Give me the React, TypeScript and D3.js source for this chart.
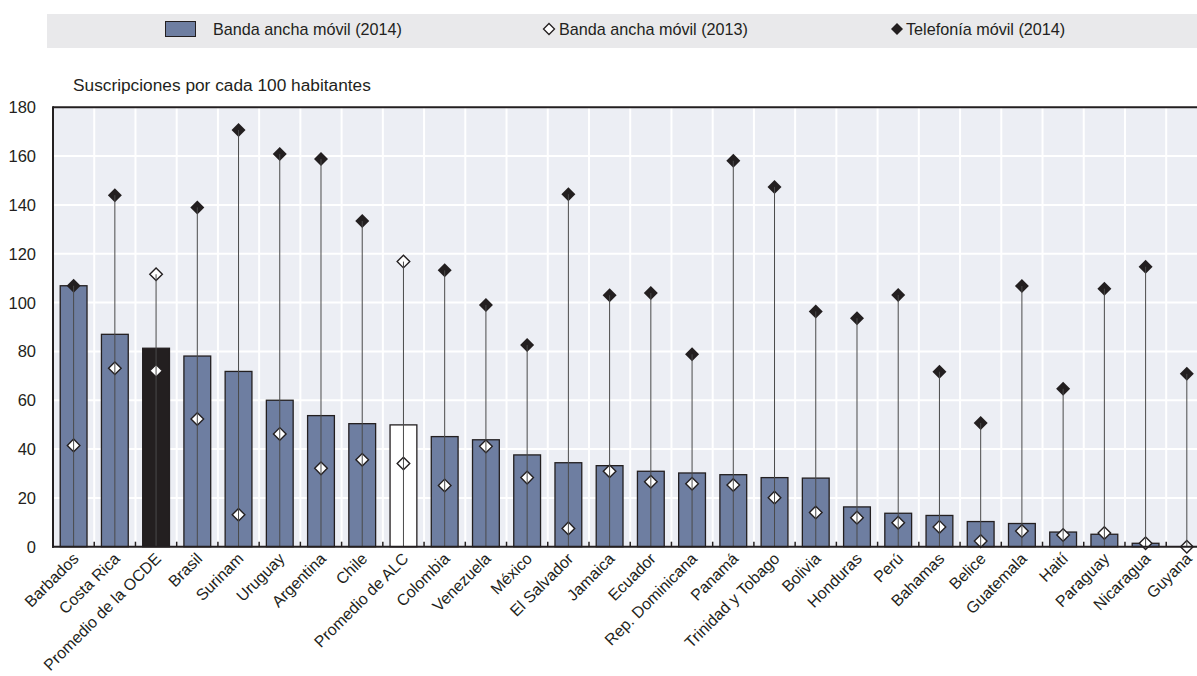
import React from "react";
import * as d3 from "d3";

const categories = [
  "Barbados", "Costa Rica", "Promedio de la OCDE", "Brasil", "Surinam", "Uruguay",
  "Argentina", "Chile", "Promedio de ALC", "Colombia", "Venezuela", "México",
  "El Salvador", "Jamaica", "Ecuador", "Rep. Dominicana", "Panamá", "Trinidad y Tobago",
  "Bolivia", "Honduras", "Perú", "Bahamas", "Belice", "Guatemala", "Haití",
  "Paraguay", "Nicaragua", "Guyana",
];
const broadband2014 = [
  106.9, 87.0, 81.3, 78.1, 71.8, 60.0, 53.7, 50.4, 49.9, 45.1, 43.8, 37.6, 34.4, 33.2,
  30.9, 30.2, 29.5, 28.3, 28.1, 16.3, 13.7, 12.8, 10.3, 9.5, 6.0, 5.1, 1.4, 0,
];
const broadband2013 = [
  41.5, 73.1, 72.1, 52.3, 13.1, 46.2, 32.1, 35.6, 34.1, 25.1, 41.1, 28.3, 7.5, 30.9,
  26.6, 25.8, 25.3, 20.1, 14.0, 11.9, 9.8, 8.1, 2.3, 6.4, 4.8, 5.6, 1.4, 0,
];
const mobile2014 = [
  106.9, 144.0, 111.6, 139.0, 170.7, 160.9, 158.8, 133.4, 116.8, 113.2, 99.0, 82.6,
  144.4, 103.0, 103.9, 78.8, 158.1, 147.4, 96.4, 93.6, 103.1, 71.7, 50.7, 106.8, 64.7,
  105.7, 114.7, 70.8,
];
const oecdAverage = "Promedio de la OCDE";
const lacAverage = "Promedio de ALC";
const yTicks = [0, 20, 40, 60, 80, 100, 120, 140, 160, 180];
const legendLabels = ["Banda ancha móvil (2014)", "Banda ancha móvil (2013)", "Telefonía móvil (2014)"];
const yTitle = "Suscripciones por cada 100 habitantes";

const W = 1197;
const H = 676;
const FONT = "'Liberation Sans', Arial, Helvetica, sans-serif";
const INK = "#231f20";
const BAR = "#6e7ea1";

function diamond(cx: number, cy: number, r: number) {
  return `M${cx},${cy - r}L${cx + r},${cy}L${cx},${cy + r}L${cx - r},${cy}Z`;
}

export default function App() {
  const left = 53;
  const step = 41.23;
  const right = left + step * categories.length;
  const top = 107.3;
  const bottom = 546.7;

  const x = d3
    .scaleBand<string>()
    .domain(categories)
    .range([left, right])
    .paddingInner(0.35)
    .paddingOuter(0.175);
  const y = d3.scaleLinear().domain([0, 180]).range([bottom, top]);
  const cx = (c: string) => (x(c) as number) + x.bandwidth() / 2;
  const boundaries = d3.range(1, categories.length + 1).map((i) => left + x.step() * i);

  return (
    <svg
      width={W}
      height={H}
      style={{ position: "absolute", left: 0, top: 0, background: "#fff" }}
      fontFamily={FONT}
    >
      {/* legend */}
      <rect x={47} y={14} width={W - 47} height={34} fill="#e9e9eb" />
      <rect x={165.5} y={21.5} width={30} height={15} fill={BAR} stroke={INK} strokeWidth={1} />
      <text x={213} y={35} fontSize={16.2} fill={INK}>{legendLabels[0]}</text>
      <path d={diamond(549, 29, 5.5)} fill="#fff" stroke={INK} strokeWidth={1.3} />
      <text x={559} y={35} fontSize={16.2} fill={INK}>{legendLabels[1]}</text>
      <path d={diamond(897, 29, 6)} fill={INK} />
      <text x={906} y={35} fontSize={16.2} fill={INK}>{legendLabels[2]}</text>

      {/* y title */}
      <text x={73} y={91} fontSize={17.3} fill={INK}>{yTitle}</text>

      {/* plot background */}
      <rect x={left} y={top} width={right - left} height={bottom - top} fill="#eceef4" />
      {yTicks.slice(1).map((t) => (
        <line key={"h" + t} x1={left} x2={right} y1={y(t)} y2={y(t)} stroke="#fff" strokeWidth={2} />
      ))}
      {boundaries.map((b, i) => (
        <line key={"v" + i} x1={b} x2={b} y1={top} y2={bottom} stroke="#fff" strokeWidth={2} />
      ))}

      {/* bars */}
      {categories.map((c, i) =>
        broadband2014[i] > 0 ? (
          <rect
            key={"b" + c}
            x={x(c)}
            y={y(broadband2014[i])}
            width={x.bandwidth()}
            height={y(0) - y(broadband2014[i])}
            fill={c === oecdAverage ? INK : c === lacAverage ? "#fff" : BAR}
            stroke={INK}
            strokeWidth={1.3}
          />
        ) : null
      )}

      {/* markers */}
      {categories.map((c, i) => (
        <path key={"m13" + c} d={diamond(cx(c), y(broadband2013[i]), 6.3)} fill="#fff" stroke={INK} strokeWidth={1.4} />
      ))}
      {categories.map((c, i) => {
        const avg = c === oecdAverage || c === lacAverage;
        return avg ? (
          <path key={"mm" + c} d={diamond(cx(c), y(mobile2014[i]), 6.3)} fill="#fff" stroke={INK} strokeWidth={1.4} />
        ) : (
          <path key={"mm" + c} d={diamond(cx(c), y(mobile2014[i]), 7)} fill={INK} />
        );
      })}

      {/* stems */}
      {categories.map((c, i) => (
        <line
          key={"s" + c}
          x1={cx(c)}
          x2={cx(c)}
          y1={y(0)}
          y2={y(Math.max(mobile2014[i], broadband2013[i]))}
          stroke="#4a4a4a"
          strokeWidth={1}
        />
      ))}

      {/* frame */}
      <line x1={left} x2={right} y1={top} y2={top} stroke={INK} strokeWidth={2} />
      <line x1={left} x2={left} y1={top - 1} y2={bottom + 1} stroke={INK} strokeWidth={2} />
      {boundaries.map((b, i) => (
        <line key={"t" + i} x1={b} x2={b} y1={bottom} y2={bottom - 5} stroke={INK} strokeWidth={1.5} />
      ))}
      <line x1={left - 1} x2={right} y1={bottom} y2={bottom} stroke={INK} strokeWidth={2} />

      {/* y tick labels */}
      {yTicks.map((t) => (
        <text key={"yl" + t} x={36} y={y(t)} dy="0.36em" textAnchor="end" fontSize={16.5} fill={INK}>
          {t}
        </text>
      ))}

      {/* x labels */}
      {categories.map((c) => (
        <text
          key={"xl" + c}
          transform={`translate(${cx(c) + 6},${bottom + 13}) rotate(-45)`}
          textAnchor="end"
          fontSize={16}
          fill={INK}
        >
          {c}
        </text>
      ))}
    </svg>
  );
}
